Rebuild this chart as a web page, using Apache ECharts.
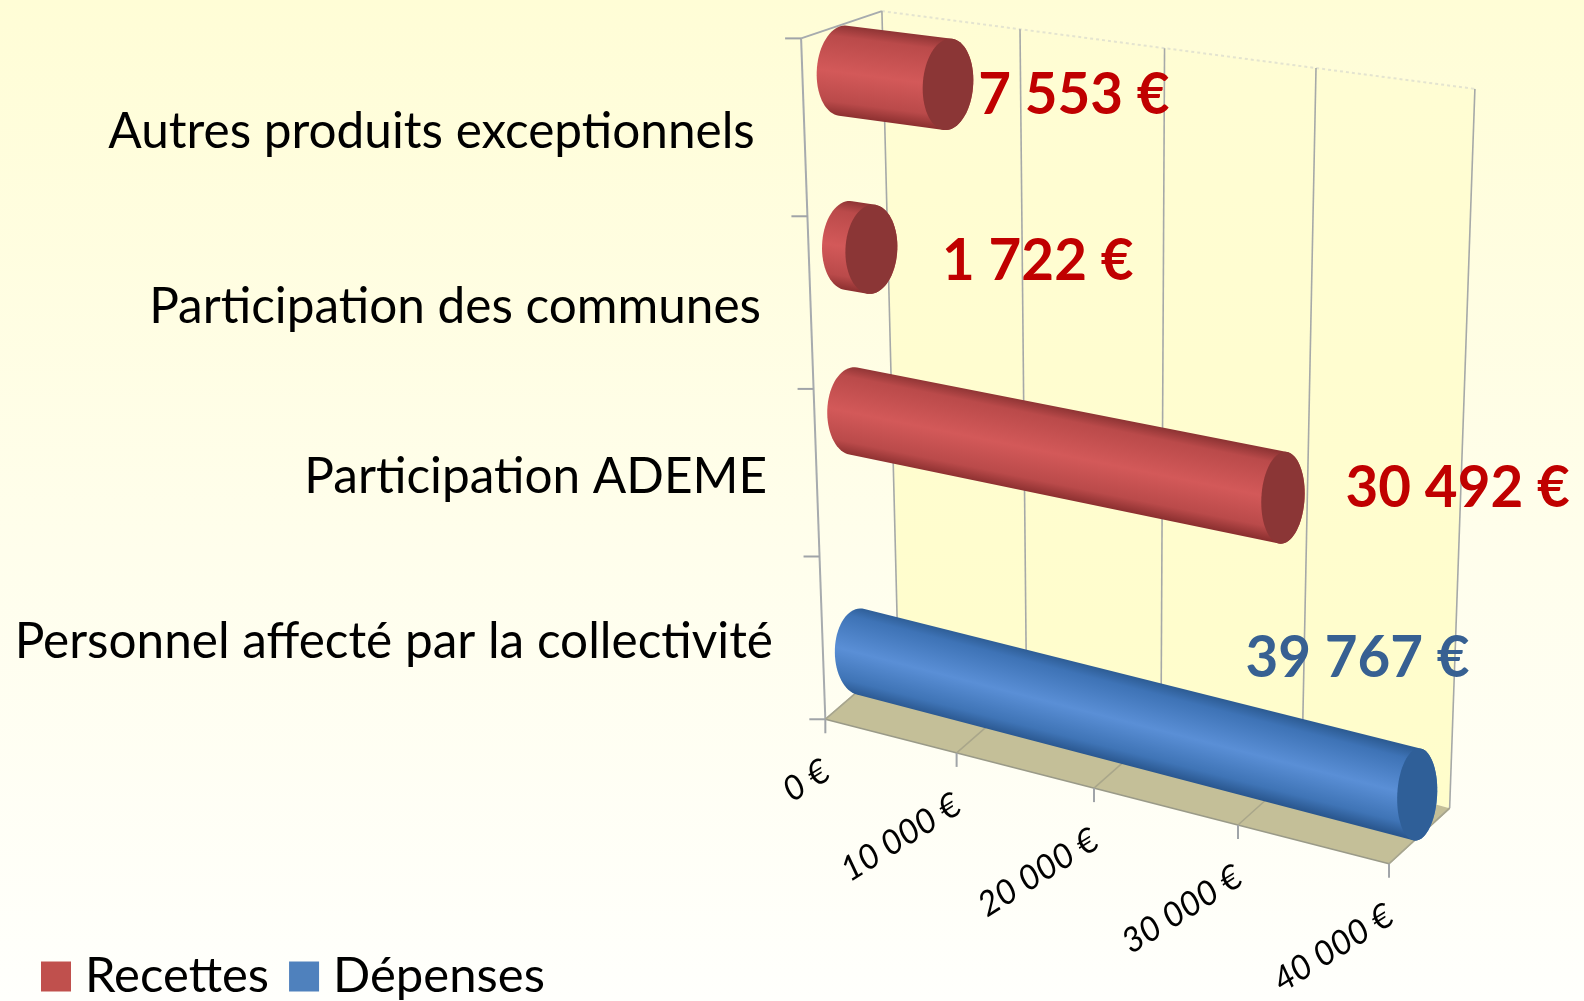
<!DOCTYPE html>
<html>
<head>
<meta charset="utf-8">
<style>html,body{margin:0;padding:0;background:#fff}#c{width:1584px;height:1001px}</style>
<script src="https://cdn.jsdelivr.net/npm/echarts@6/dist/echarts.min.js"></script>
</head>
<body>
<div id="c"></div>
<script>
const categories = ['Autres produits exceptionnels', 'Participation des communes', 'Participation ADEME', 'Personnel affecté par la collectivité'];
const recettes = [7553, 1722, 30492, null];
const depenses = [null, null, null, 39767];
const valueLabels = ['7 553 €', '1 722 €', '30 492 €', '39 767 €'];
const xTicks = [0, 10000, 20000, 30000, 40000];
const xTickLabels = ['0 €', '10 000 €', '20 000 €', '30 000 €', '40 000 €'];
const yBands = [0, 1, 2, 3, 4];

// Projection of the plot box, expressed in reference pixels
const K = 1584 / 1568;
const FRONT = { tl: [793, 38], bl: [817, 712], br: [1375, 855], tr: [1401, 104] };
const BACK = { tl: [873, 11], bl: [889, 650], br: [1435, 800], tr: [1460, 88] };
const PERSP_X = 1.098, PERSP_Y = 0.9425;
const OFFSET = { Recettes: -0.225, 'Dépenses': 0.25 };
const BAR_NUDGE = [-4, 0, 0, 1];
const LABEL_OFFSET = [[30, 11], [70, 12], [62, -9], [-170, -134]];
const LABEL_COLOR = ['#C00000', '#C00000', '#C00000', '#376092'];
const FONT = 'Lato, "Open Sans", sans-serif';
const PAL = {
  Recettes: { cap: '#8B3636', stops: ['#8E3434', '#BA4A4A', '#D35959', '#BA4A4A', '#8C3030'] },
  'Dépenses': { cap: '#2F5F98', stops: ['#2D5C94', '#3E73B6', '#5A8FD6', '#3F74B6', '#2A578F'] }
};

function persp(u, r) { return u / (u + (1 - u) * r); }
function lerp(a, b, t) { return [a[0] + (b[0] - a[0]) * t, a[1] + (b[1] - a[1]) * t]; }
// su, st: perspective-corrected fractions; d: 0 front .. 1 back
function proj(su, st, d) {
  const tl = lerp(FRONT.tl, BACK.tl, d), tr = lerp(FRONT.tr, BACK.tr, d);
  const bl = lerp(FRONT.bl, BACK.bl, d), br = lerp(FRONT.br, BACK.br, d);
  const p = lerp(lerp(tl, tr, su), lerp(bl, br, su), st);
  return [p[0] * K, p[1] * K];
}
function norm(params, api, value, cat) {
  const cs = params.coordSys;
  const c = api.coord([value, cat]);
  return { u: (c[0] - cs.x) / cs.width, t: (c[1] - cs.y) / cs.height };
}
function line(a, b, color, w, dash) {
  return { type: 'line', shape: { x1: a[0], y1: a[1], x2: b[0], y2: b[1] },
    style: { stroke: color, lineWidth: w, lineDash: dash || null } };
}
function poly(pts, fill) { return { type: 'polygon', shape: { points: pts }, style: { fill: fill } }; }

function renderFrame() {
  const wallFill = { type: 'linear', x: 0, y: 0, x2: 0, y2: 1, colorStops: [
    { offset: 0, color: '#FFFDD4' }, { offset: 1, color: '#FFFDCB' }] };
  const gray = '#A7ABAE';
  const kids = [
    poly([proj(0, 0, 1), proj(1, 0, 1), proj(1, 1, 1), proj(0, 1, 1)], wallFill),
    poly([proj(0, 1, 0), proj(1, 1, 0), proj(1, 1, 1), proj(0, 1, 1)], '#C4BF98'),
    line(proj(0, 0, 0), proj(0, 1, 0), gray, 2),
    line(proj(0, 0, 0), proj(0, 0, 1), gray, 2),
    line(proj(0, 1, 0), proj(0, 1, 1), gray, 1.5),
    line(proj(1, 1, 0), proj(1, 1, 1), gray, 1.5),
    line(proj(0, 1, 0), proj(1, 1, 0), '#9A9A88', 1.5),
    line(proj(0, 0, 1), proj(1, 0, 1), '#E4E4D0', 2, [3, 3])
  ];
  return { type: 'group', children: kids };
}
function renderGrid(params, api) {
  const n = norm(params, api, api.value(0), 0);
  const su = persp(n.u, PERSP_X);
  const i = params.dataIndex;
  const a = proj(su, 0, 1), b = proj(su, 1, 1), c = proj(su, 1, 0);
  return { type: 'group', children: [
    line(a, b, '#A6A9A8', 1.6),
    line(b, c, '#A9A68A', 1.5),
    line(c, [c[0], c[1] + 14], '#A0A4A8', 2),
    { type: 'text', x: c[0] + 1, y: c[1] + 49, rotation: 0.56,
      style: { text: xTickLabels[i], font: 'italic 34px ' + FONT, fill: '#000', align: 'right', verticalAlign: 'middle' } }
  ] };
}
function renderBand(params) {
  const st = persp(params.dataIndex / 4, PERSP_Y);
  const p = proj(0, st, 0);
  return line(p, [p[0] - 16, p[1]], '#A0A4A8', 2);
}
function renderCat(params, api) {
  const i = params.dataIndex;
  const n = norm(params, api, 0, i);
  const p = proj(0, persp(n.t, PERSP_Y), 0);
  return { type: 'text', x: p[0] - 49 * K, y: p[1] + 4 * K,
    style: { text: categories[i], font: '49.5px ' + FONT, fill: '#000', align: 'right', verticalAlign: 'middle' } };
}
function makeBar(name) {
  const pal = PAL[name];
  return function (params, api) {
    const val = api.value(0), cat = api.value(1);
    const n = norm(params, api, val, cat);
    const st = persp(n.t, PERSP_Y);
    const off = OFFSET[name] * 0.25;
    const su = persp(n.u, PERSP_X);
    const L = proj(0, st + off, 0.5), R = proj(su, st + off, 0.5);
    L[1] += BAR_NUDGE[cat] * K; R[1] += BAR_NUDGE[cat] * K;
    const ryL = (45 - 3 * st) * K, ryR = ryL + 3 * su * K, rxL = 26 * K, rxR = (26 - 6 * su) * K;
    const dx = R[0] - L[0], dy = R[1] - L[1], len = Math.hypot(dx, dy) || 1;
    const ax = [dx / len, dy / len], by = [0.09, -1];
    const ell = (c, rx, ry, th) => [c[0] + rx * Math.cos(th) * ax[0] + ry * Math.sin(th) * by[0],
                                    c[1] + rx * Math.cos(th) * ax[1] + ry * Math.sin(th) * by[1]];
    const body = [], cap = [];
    for (let k = 0; k <= 36; k++) body.push(ell(L, rxL, ryL, Math.PI / 2 + Math.PI * k / 36));
    for (let k = 0; k <= 36; k++) body.push(ell(R, rxR, ryR, -Math.PI / 2 + Math.PI * k / 36));
    for (let k = 0; k < 72; k++) cap.push(ell(R, rxR, ryR, 2 * Math.PI * k / 72));
    const M = [(L[0] + R[0]) / 2, (L[1] + R[1]) / 2];
    // gradient runs across the cylinder, perpendicular to its axis
    const nx = -ax[1], ny = ax[0], h = (ryL + ryR) / 2 * Math.abs(by[0] * nx + by[1] * ny);
    const g = { type: 'linear', global: true,
      x: M[0] - nx * h, y: M[1] - ny * h, x2: M[0] + nx * h, y2: M[1] + ny * h,
      colorStops: [0, 0.13, 0.52, 0.85, 1].map((o, i) => ({ offset: o, color: pal.stops[i] })) };
    const o = LABEL_OFFSET[cat];
    return { type: 'group', children: [
      poly(body, g), poly(cap, pal.cap),
      { type: 'text', x: R[0] + o[0] * K, y: R[1] + o[1] * K, z2: 50,
        style: { text: valueLabels[cat], font: 'bold 56.5px ' + FONT, fill: LABEL_COLOR[cat], align: 'left', verticalAlign: 'middle' } }
    ] };
  };
}
const seriesData = vals => categories.map((c, i) => [vals[i], i]).filter(d => d[0] != null);

const option = {
  animation: false,
  backgroundColor: { type: 'linear', x: 0, y: 0, x2: 0, y2: 1, colorStops: [
    { offset: 0, color: '#FFFDD6' }, { offset: 0.55, color: '#FFFEEC' }, { offset: 1, color: '#FFFFFC' }] },
  grid: { left: 100, right: 100, top: 100, bottom: 100 },
  xAxis: { type: 'value', min: 0, max: 40000, interval: 10000, show: false },
  yAxis: { type: 'category', data: categories, inverse: true, show: false },
  legend: {
    left: 41, top: 952, padding: 0, icon: 'rect', itemWidth: 30, itemHeight: 30, itemGap: 20,
    data: ['Recettes', 'Dépenses'], selectedMode: false,
    textStyle: { fontFamily: FONT, fontSize: 49, color: '#000', padding: [0, 0, 0, 9] }
  },
  series: [
    { type: 'custom', name: 'frame', silent: true, z: 1, data: [[0, 0]], renderItem: renderFrame },
    { type: 'custom', name: 'grid', silent: true, z: 2, data: xTicks.map(v => [v, 0]), renderItem: renderGrid },
    { type: 'custom', name: 'bands', silent: true, z: 2, data: yBands.map(b => [0, b]), renderItem: renderBand },
    { type: 'custom', name: 'cats', silent: true, z: 3, data: categories.map((c, i) => [0, i]), renderItem: renderCat },
    { type: 'custom', name: 'Recettes', z: 4, itemStyle: { color: '#C0504D' }, data: seriesData(recettes), renderItem: makeBar('Recettes') },
    { type: 'custom', name: 'Dépenses', z: 4, itemStyle: { color: '#4F81BD' }, data: seriesData(depenses), renderItem: makeBar('Dépenses') }
  ]
};
echarts.init(document.getElementById('c')).setOption(option);
</script>
</body>
</html>
